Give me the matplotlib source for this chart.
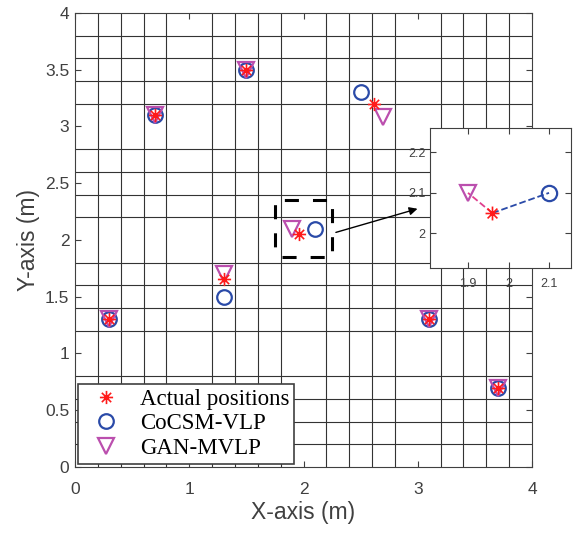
import matplotlib
matplotlib.use('Agg')
from matplotlib import pyplot as plt
from matplotlib.ticker import MultipleLocator
from matplotlib.path import Path
import numpy as np

# Positions (m)
actual_x = [0.3, 0.7, 1.5, 2.62, 1.96, 1.3, 3.1, 3.7]
actual_y = [1.3, 3.1, 3.5, 3.2, 2.05, 1.66, 1.3, 0.7]
cocsm_x = [0.3, 0.7, 1.5, 2.5, 2.1, 1.3, 3.1, 3.7]
cocsm_y = [1.3, 3.1, 3.5, 3.3, 2.1, 1.5, 1.3, 0.7]
gan_x = [0.3, 0.7, 1.5, 2.7, 1.9, 1.3, 3.1, 3.7]
gan_y = [1.3, 3.1, 3.5, 3.08, 2.1, 1.7, 1.3, 0.7]

xticks = [0, 1, 2, 3, 4]
yticks = [0, 0.5, 1, 1.5, 2, 2.5, 3, 3.5, 4]
inset_xticks = [1.9, 2.0, 2.1]
inset_yticks = [2.0, 2.1, 2.2]

red = '#FF1A1A'
blue = '#2A4AA8'
magenta = '#BB4FAE'
gray = '#404040'

# MATLAB-like asterisk marker (8 spokes)
d = 0.7071
asterisk = Path([(-1, 0), (1, 0), (0, -1), (0, 1), (-d, -d), (d, d), (-d, d), (d, -d)],
                [Path.MOVETO, Path.LINETO] * 4)


def fmt(v):
    return f'{v:g}'


def style_axes(ax):
    ax.xaxis.set_minor_locator(MultipleLocator(0.2))
    ax.yaxis.set_minor_locator(MultipleLocator(0.2))
    ax.grid(which='minor', color='0.2', linewidth=0.8)
    ax.grid(which='major', visible=False)
    ax.tick_params(which='minor', length=0)
    ax.tick_params(which='major', direction='in', top=True, right=True,
                   colors=gray, length=4)
    for s in ax.spines.values():
        s.set_color(gray)
    ax.set_axisbelow(True)


def draw_points(ax, ms):
    ax.plot(actual_x, actual_y, linestyle='none', marker=asterisk, mec=red, mfc='none',
            ms=ms - 1, mew=1.2, label='Actual positions', zorder=4)
    ax.plot(cocsm_x, cocsm_y, 'o', mfc='none', mec=blue, ms=ms, mew=1.6,
            label='CoCSM-VLP', zorder=3)
    ax.plot(gan_x, gan_y, 'v', mfc='none', mec=magenta, ms=ms + 1, mew=1.6,
            label='GAN-MVLP', zorder=3)


fig = plt.figure(figsize=(5.74, 5.34), dpi=100)
ax = fig.add_axes([0.1307, 0.1255, 0.7961, 0.8502])
draw_points(ax, 10.5)
style_axes(ax)
ax.set_xlim(0, 4)
ax.set_ylim(0, 4)
ax.set_xticks(xticks)
ax.set_yticks(yticks)
ax.set_xticklabels([fmt(v) for v in xticks], fontsize=12.5, family='Liberation Sans')
ax.set_yticklabels([fmt(v) for v in yticks], fontsize=12.5, family='Liberation Sans')
ax.tick_params(axis='x', pad=10.5)
ax.tick_params(axis='y', pad=4)
ax.set_xlabel('X-axis (m)', fontsize=16.5, color=gray, family='Liberation Sans', labelpad=3)
ax.set_ylabel('Y-axis (m)', fontsize=16.5, color=gray, family='Liberation Sans', labelpad=4)

leg = ax.legend(loc='lower left', prop={'family': 'Liberation Serif', 'size': 16.5},
                fancybox=False, edgecolor=gray, framealpha=1,
                handletextpad=0.5, borderpad=0.2, labelspacing=0.15,
                handlelength=2.0, borderaxespad=0.15)
leg.get_frame().set_linewidth(1.2)

# Zoom box (dashed, gaps at the corners)
ax.plot([1.75, 2.25, 2.25, 1.75, 1.75], [1.85, 1.85, 2.35, 2.35, 1.85],
        color='k', lw=2.2, linestyle=(6.9, (4.6, 4.6)), zorder=4)
ax.annotate('', xy=(0.732, 0.6105), xycoords='figure fraction',
            xytext=(2.26, 2.06), textcoords='data',
            arrowprops=dict(arrowstyle='-|>', color='k', lw=1.0, mutation_scale=12),
            annotation_clip=False)

# Inset
axi = fig.add_axes([0.749, 0.498, 0.2456, 0.262])
axi.plot([actual_x[4], cocsm_x[4]], [actual_y[4], cocsm_y[4]], '--', color=blue, lw=1.3)
axi.plot([actual_x[4], gan_x[4]], [actual_y[4], gan_y[4]], '--', color='#E0408F', lw=1.3)
draw_points(axi, 11)
style_axes(axi)
axi.set_xlim(1.806, 2.154)
axi.set_ylim(1.914, 2.26)
axi.set_xticks(inset_xticks)
axi.set_yticks(inset_yticks)
axi.set_xticklabels([fmt(v) for v in inset_xticks], fontsize=9, family='Liberation Sans')
axi.set_yticklabels([fmt(v) for v in inset_yticks], fontsize=9, family='Liberation Sans')
axi.tick_params(axis='x', pad=7)
axi.tick_params(axis='y', pad=3)

fig.savefig('out.png', dpi=100)
